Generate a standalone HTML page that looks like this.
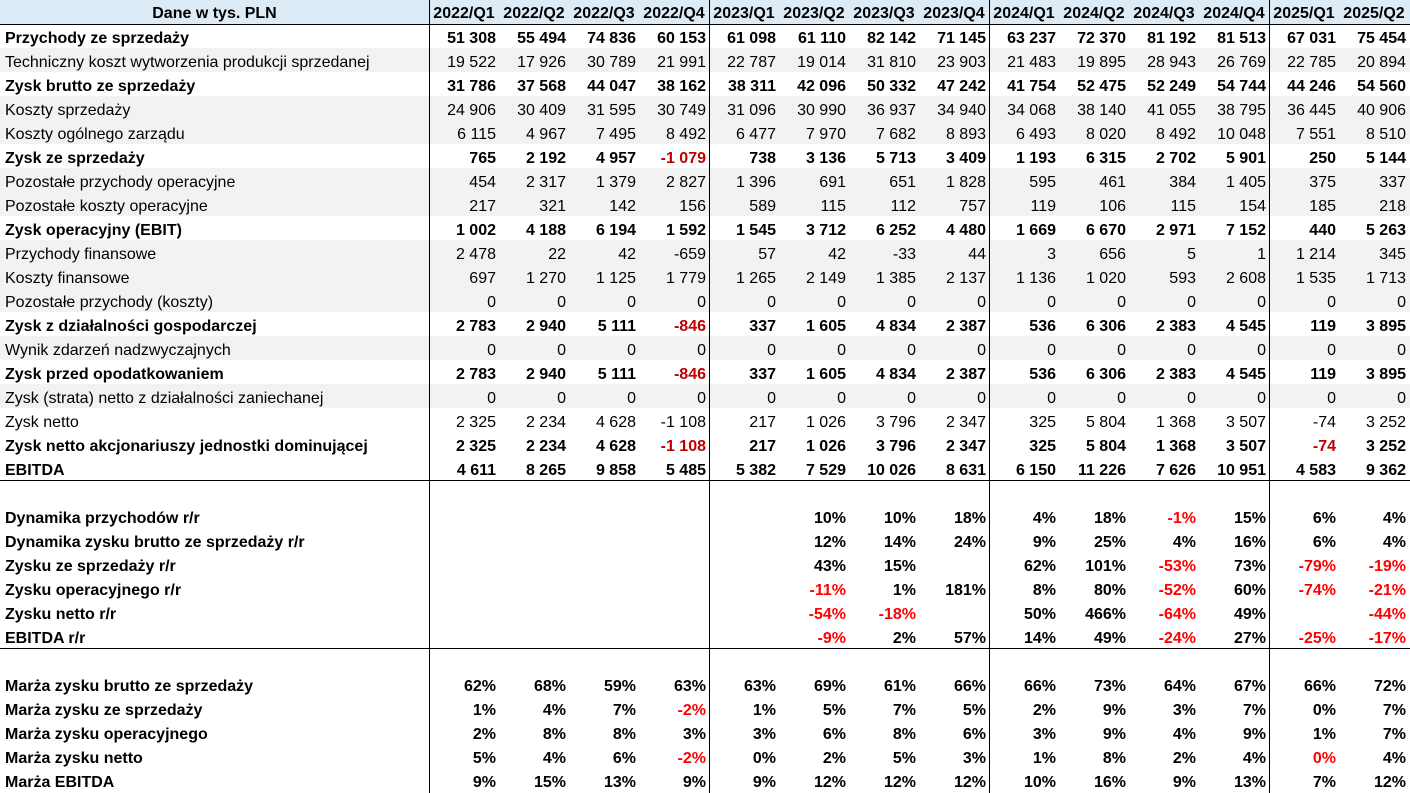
<!DOCTYPE html>
<html><head><meta charset="utf-8">
<style>
*{margin:0;padding:0;box-sizing:border-box}
html,body{width:1410px;height:793px;overflow:hidden;background:#fff}
body{position:relative;font-family:"Liberation Sans",Arial,sans-serif;font-size:16px;color:#000}
.r{position:absolute;left:0;width:1410px;height:24px;display:grid;grid-template-columns:429px repeat(14,70px);line-height:24px;white-space:nowrap}
.r>div{text-align:right;padding-right:3px;position:relative;top:3px}
.r>div.l{text-align:left;padding-left:5px}
.g{background:#f2f2f2}
.b{font-weight:bold}
.h{background:#ddebf7;font-weight:bold;top:0}
.h>div{text-align:center!important;padding-right:0!important;padding-left:0!important;top:2px!important}
.dr{color:#c00000}
.rd{color:#ff0000}
.v{position:absolute;top:0;width:1px;height:793px;background:#000}
.hl{position:absolute;left:0;width:1410px;height:1px;background:#000}
</style></head><body>

<div class="r h" style="top:0"><div>Dane w tys. PLN</div><div>2022/Q1</div><div>2022/Q2</div><div>2022/Q3</div><div>2022/Q4</div><div>2023/Q1</div><div>2023/Q2</div><div>2023/Q3</div><div>2023/Q4</div><div>2024/Q1</div><div>2024/Q2</div><div>2024/Q3</div><div>2024/Q4</div><div>2025/Q1</div><div>2025/Q2</div></div>

<div class="r b" style="top:24px"><div class="l">Przychody ze sprzedaży</div><div>51 308</div><div>55 494</div><div>74 836</div><div>60 153</div><div>61 098</div><div>61 110</div><div>82 142</div><div>71 145</div><div>63 237</div><div>72 370</div><div>81 192</div><div>81 513</div><div>67 031</div><div>75 454</div></div>
<div class="r g" style="top:48px"><div class="l">Techniczny koszt wytworzenia produkcji sprzedanej</div><div>19 522</div><div>17 926</div><div>30 789</div><div>21 991</div><div>22 787</div><div>19 014</div><div>31 810</div><div>23 903</div><div>21 483</div><div>19 895</div><div>28 943</div><div>26 769</div><div>22 785</div><div>20 894</div></div>
<div class="r b" style="top:72px"><div class="l">Zysk brutto ze sprzedaży</div><div>31 786</div><div>37 568</div><div>44 047</div><div>38 162</div><div>38 311</div><div>42 096</div><div>50 332</div><div>47 242</div><div>41 754</div><div>52 475</div><div>52 249</div><div>54 744</div><div>44 246</div><div>54 560</div></div>
<div class="r g" style="top:96px"><div class="l">Koszty sprzedaży</div><div>24 906</div><div>30 409</div><div>31 595</div><div>30 749</div><div>31 096</div><div>30 990</div><div>36 937</div><div>34 940</div><div>34 068</div><div>38 140</div><div>41 055</div><div>38 795</div><div>36 445</div><div>40 906</div></div>
<div class="r g" style="top:120px"><div class="l">Koszty ogólnego zarządu</div><div>6 115</div><div>4 967</div><div>7 495</div><div>8 492</div><div>6 477</div><div>7 970</div><div>7 682</div><div>8 893</div><div>6 493</div><div>8 020</div><div>8 492</div><div>10 048</div><div>7 551</div><div>8 510</div></div>
<div class="r b" style="top:144px"><div class="l">Zysk ze sprzedaży</div><div>765</div><div>2 192</div><div>4 957</div><div class="dr">-1 079</div><div>738</div><div>3 136</div><div>5 713</div><div>3 409</div><div>1 193</div><div>6 315</div><div>2 702</div><div>5 901</div><div>250</div><div>5 144</div></div>
<div class="r g" style="top:168px"><div class="l">Pozostałe przychody operacyjne</div><div>454</div><div>2 317</div><div>1 379</div><div>2 827</div><div>1 396</div><div>691</div><div>651</div><div>1 828</div><div>595</div><div>461</div><div>384</div><div>1 405</div><div>375</div><div>337</div></div>
<div class="r g" style="top:192px"><div class="l">Pozostałe koszty operacyjne</div><div>217</div><div>321</div><div>142</div><div>156</div><div>589</div><div>115</div><div>112</div><div>757</div><div>119</div><div>106</div><div>115</div><div>154</div><div>185</div><div>218</div></div>
<div class="r b" style="top:216px"><div class="l">Zysk operacyjny (EBIT)</div><div>1 002</div><div>4 188</div><div>6 194</div><div>1 592</div><div>1 545</div><div>3 712</div><div>6 252</div><div>4 480</div><div>1 669</div><div>6 670</div><div>2 971</div><div>7 152</div><div>440</div><div>5 263</div></div>
<div class="r g" style="top:240px"><div class="l">Przychody finansowe</div><div>2 478</div><div>22</div><div>42</div><div>-659</div><div>57</div><div>42</div><div>-33</div><div>44</div><div>3</div><div>656</div><div>5</div><div>1</div><div>1 214</div><div>345</div></div>
<div class="r g" style="top:264px"><div class="l">Koszty finansowe</div><div>697</div><div>1 270</div><div>1 125</div><div>1 779</div><div>1 265</div><div>2 149</div><div>1 385</div><div>2 137</div><div>1 136</div><div>1 020</div><div>593</div><div>2 608</div><div>1 535</div><div>1 713</div></div>
<div class="r g" style="top:288px"><div class="l">Pozostałe przychody (koszty)</div><div>0</div><div>0</div><div>0</div><div>0</div><div>0</div><div>0</div><div>0</div><div>0</div><div>0</div><div>0</div><div>0</div><div>0</div><div>0</div><div>0</div></div>
<div class="r b" style="top:312px"><div class="l">Zysk z działalności gospodarczej</div><div>2 783</div><div>2 940</div><div>5 111</div><div class="dr">-846</div><div>337</div><div>1 605</div><div>4 834</div><div>2 387</div><div>536</div><div>6 306</div><div>2 383</div><div>4 545</div><div>119</div><div>3 895</div></div>
<div class="r g" style="top:336px"><div class="l">Wynik zdarzeń nadzwyczajnych</div><div>0</div><div>0</div><div>0</div><div>0</div><div>0</div><div>0</div><div>0</div><div>0</div><div>0</div><div>0</div><div>0</div><div>0</div><div>0</div><div>0</div></div>
<div class="r b" style="top:360px"><div class="l">Zysk przed opodatkowaniem</div><div>2 783</div><div>2 940</div><div>5 111</div><div class="dr">-846</div><div>337</div><div>1 605</div><div>4 834</div><div>2 387</div><div>536</div><div>6 306</div><div>2 383</div><div>4 545</div><div>119</div><div>3 895</div></div>
<div class="r g" style="top:384px"><div class="l">Zysk (strata) netto z działalności zaniechanej</div><div>0</div><div>0</div><div>0</div><div>0</div><div>0</div><div>0</div><div>0</div><div>0</div><div>0</div><div>0</div><div>0</div><div>0</div><div>0</div><div>0</div></div>
<div class="r" style="top:408px"><div class="l">Zysk netto</div><div>2 325</div><div>2 234</div><div>4 628</div><div>-1 108</div><div>217</div><div>1 026</div><div>3 796</div><div>2 347</div><div>325</div><div>5 804</div><div>1 368</div><div>3 507</div><div>-74</div><div>3 252</div></div>
<div class="r b" style="top:432px"><div class="l">Zysk netto akcjonariuszy jednostki dominującej</div><div>2 325</div><div>2 234</div><div>4 628</div><div class="dr">-1 108</div><div>217</div><div>1 026</div><div>3 796</div><div>2 347</div><div>325</div><div>5 804</div><div>1 368</div><div>3 507</div><div class="dr">-74</div><div>3 252</div></div>
<div class="r b" style="top:456px"><div class="l">EBITDA</div><div>4 611</div><div>8 265</div><div>9 858</div><div>5 485</div><div>5 382</div><div>7 529</div><div>10 026</div><div>8 631</div><div>6 150</div><div>11 226</div><div>7 626</div><div>10 951</div><div>4 583</div><div>9 362</div></div>

<div class="r b" style="top:504px"><div class="l">Dynamika przychodów r/r</div><div></div><div></div><div></div><div></div><div></div><div>10%</div><div>10%</div><div>18%</div><div>4%</div><div>18%</div><div class="rd">-1%</div><div>15%</div><div>6%</div><div>4%</div></div>
<div class="r b" style="top:528px"><div class="l">Dynamika zysku brutto ze sprzedaży r/r</div><div></div><div></div><div></div><div></div><div></div><div>12%</div><div>14%</div><div>24%</div><div>9%</div><div>25%</div><div>4%</div><div>16%</div><div>6%</div><div>4%</div></div>
<div class="r b" style="top:552px"><div class="l">Zysku ze sprzedaży r/r</div><div></div><div></div><div></div><div></div><div></div><div>43%</div><div>15%</div><div></div><div>62%</div><div>101%</div><div class="rd">-53%</div><div>73%</div><div class="rd">-79%</div><div class="rd">-19%</div></div>
<div class="r b" style="top:576px"><div class="l">Zysku operacyjnego r/r</div><div></div><div></div><div></div><div></div><div></div><div class="rd">-11%</div><div>1%</div><div>181%</div><div>8%</div><div>80%</div><div class="rd">-52%</div><div>60%</div><div class="rd">-74%</div><div class="rd">-21%</div></div>
<div class="r b" style="top:600px"><div class="l">Zysku netto r/r</div><div></div><div></div><div></div><div></div><div></div><div class="rd">-54%</div><div class="rd">-18%</div><div></div><div>50%</div><div>466%</div><div class="rd">-64%</div><div>49%</div><div></div><div class="rd">-44%</div></div>
<div class="r b" style="top:624px"><div class="l">EBITDA r/r</div><div></div><div></div><div></div><div></div><div></div><div class="rd">-9%</div><div>2%</div><div>57%</div><div>14%</div><div>49%</div><div class="rd">-24%</div><div>27%</div><div class="rd">-25%</div><div class="rd">-17%</div></div>

<div class="r b" style="top:672px"><div class="l">Marża zysku brutto ze sprzedaży</div><div>62%</div><div>68%</div><div>59%</div><div>63%</div><div>63%</div><div>69%</div><div>61%</div><div>66%</div><div>66%</div><div>73%</div><div>64%</div><div>67%</div><div>66%</div><div>72%</div></div>
<div class="r b" style="top:696px"><div class="l">Marża zysku ze sprzedaży</div><div>1%</div><div>4%</div><div>7%</div><div class="rd">-2%</div><div>1%</div><div>5%</div><div>7%</div><div>5%</div><div>2%</div><div>9%</div><div>3%</div><div>7%</div><div>0%</div><div>7%</div></div>
<div class="r b" style="top:720px"><div class="l">Marża zysku operacyjnego</div><div>2%</div><div>8%</div><div>8%</div><div>3%</div><div>3%</div><div>6%</div><div>8%</div><div>6%</div><div>3%</div><div>9%</div><div>4%</div><div>9%</div><div>1%</div><div>7%</div></div>
<div class="r b" style="top:744px"><div class="l">Marża zysku netto</div><div>5%</div><div>4%</div><div>6%</div><div class="rd">-2%</div><div>0%</div><div>2%</div><div>5%</div><div>3%</div><div>1%</div><div>8%</div><div>2%</div><div>4%</div><div class="rd">0%</div><div>4%</div></div>
<div class="r b" style="top:768px"><div class="l">Marża EBITDA</div><div>9%</div><div>15%</div><div>13%</div><div>9%</div><div>9%</div><div>12%</div><div>12%</div><div>12%</div><div>10%</div><div>16%</div><div>9%</div><div>13%</div><div>7%</div><div>12%</div></div>

<div class="hl" style="top:24px"></div>
<div class="hl" style="top:480px"></div>
<div class="hl" style="top:648px"></div>
<div class="v" style="left:429px"></div>
<div class="v" style="left:709px"></div>
<div class="v" style="left:989px"></div>
<div class="v" style="left:1269px"></div>
</body></html>
